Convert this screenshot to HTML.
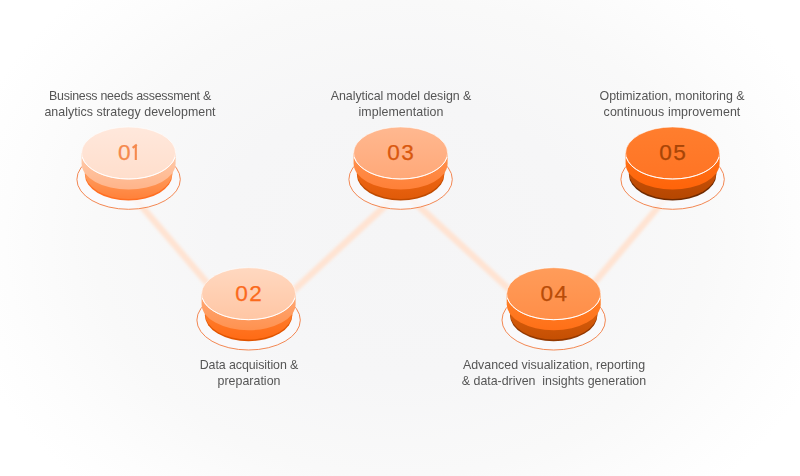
<!DOCTYPE html>
<html><head><meta charset="utf-8"><style>
html,body{margin:0;padding:0;}
body{width:800px;height:476px;overflow:hidden;position:relative;
background:radial-gradient(ellipse 450px 350px at 50% 50%, #f5f5f6 0%, #f6f6f7 40%, #f9f9f9 68%, #fdfdfd 88%, #ffffff 100%);
font-family:"Liberation Sans",sans-serif;}
svg{position:absolute;left:0;top:0;}
.t{position:absolute;width:300px;text-align:center;font-size:12.4px;line-height:16px;height:16px;color:#555;will-change:transform;white-space:pre;}
</style></head><body>
<svg width="800" height="476" viewBox="0 0 800 476">
<defs><filter id="blur" x="-20%" y="-20%" width="140%" height="140%"><feGaussianBlur stdDeviation="1.6"/></filter></defs>
<line x1="128.6" y1="191" x2="248.6" y2="331.7" stroke="#ffe3d2" stroke-width="6.5" filter="url(#blur)"/>
<line x1="248.6" y1="332.2" x2="400.6" y2="191.5" stroke="#ffe3d2" stroke-width="6.5" filter="url(#blur)"/>
<line x1="400.6" y1="189.5" x2="553.7" y2="330.2" stroke="#ffe3d2" stroke-width="6.5" filter="url(#blur)"/>
<line x1="553.7" y1="330.7" x2="672.6" y2="190" stroke="#ffe3d2" stroke-width="6.5" filter="url(#blur)"/>
<defs><linearGradient id="t0" gradientUnits="userSpaceOnUse" x1="0" y1="127" x2="0" y2="179"><stop offset="0" stop-color="#ffe8dc"/><stop offset="1" stop-color="#ffdecc"/></linearGradient><linearGradient id="a0" gradientUnits="userSpaceOnUse" x1="0" y1="161" x2="0" y2="189"><stop offset="0" stop-color="#ffc6a4"/><stop offset="1" stop-color="#ffb48a"/></linearGradient><linearGradient id="b0" gradientUnits="userSpaceOnUse" x1="0" y1="173" x2="0" y2="200"><stop offset="0" stop-color="#ff9d60"/><stop offset="1" stop-color="#ff8038"/></linearGradient></defs>
<ellipse cx="128.6" cy="179.4" rx="51.7" ry="29.9" fill="#f9f9fc" fill-opacity="0.75" stroke="#f27a40" stroke-width="0.9"/>
<path d="M84.89999999999999,153 V174.5 A43.7,26 0 0 0 172.3,174.5 V153 Z" fill="#ff6e22"/>
<path d="M84.89999999999999,153 V172.9 A43.7,26 0 0 0 172.3,172.9 V153 Z" fill="url(#b0)"/>
<path d="M81.6,153 V163.5 A47,26 0 0 0 175.6,163.5 V153 Z" fill="url(#a0)"/>
<ellipse cx="128.6" cy="153" rx="47" ry="26" fill="url(#t0)" stroke="#fff" stroke-opacity="0.55" stroke-width="1"/>
<path d="M82.18,157.07 A47,26 0 0 0 175.02,157.07" fill="none" stroke="#fff" stroke-width="1"/>
<text x="124.39999999999999" y="160.1" text-anchor="middle" font-family="Liberation Sans" font-size="22.6" fill="#f5894d" stroke="#f5894d" stroke-width="0.25">0</text>
<path d="M135.79999999999998,160.0 V144.5 M136.79999999999998,144.7 L132.6,147.9" stroke="#f5894d" stroke-width="2.1" fill="none"/>
<defs><linearGradient id="t1" gradientUnits="userSpaceOnUse" x1="0" y1="267.7" x2="0" y2="319.7"><stop offset="0" stop-color="#ffd8c0"/><stop offset="1" stop-color="#ffc6a4"/></linearGradient><linearGradient id="a1" gradientUnits="userSpaceOnUse" x1="0" y1="301.7" x2="0" y2="329.7"><stop offset="0" stop-color="#ffa46e"/><stop offset="1" stop-color="#ff9250"/></linearGradient><linearGradient id="b1" gradientUnits="userSpaceOnUse" x1="0" y1="313.7" x2="0" y2="340.7"><stop offset="0" stop-color="#ff7c2c"/><stop offset="1" stop-color="#ff6a14"/></linearGradient></defs>
<ellipse cx="248.6" cy="320.09999999999997" rx="51.7" ry="29.9" fill="#f9f9fc" fill-opacity="0.75" stroke="#f27a40" stroke-width="0.9"/>
<path d="M204.89999999999998,293.7 V315.2 A43.7,26 0 0 0 292.3,315.2 V293.7 Z" fill="#e05400"/>
<path d="M204.89999999999998,293.7 V313.59999999999997 A43.7,26 0 0 0 292.3,313.59999999999997 V293.7 Z" fill="url(#b1)"/>
<path d="M201.6,293.7 V304.2 A47,26 0 0 0 295.6,304.2 V293.7 Z" fill="url(#a1)"/>
<ellipse cx="248.6" cy="293.7" rx="47" ry="26" fill="url(#t1)" stroke="#fff" stroke-opacity="0.55" stroke-width="1"/>
<path d="M202.18,297.77 A47,26 0 0 0 295.02,297.77" fill="none" stroke="#fff" stroke-width="1"/>
<text x="249.29999999999998" y="300.8" text-anchor="middle" font-family="Liberation Sans" font-size="22.6" letter-spacing="1.4" fill="#fb6a1c" stroke="#fb6a1c" stroke-width="0.25">02</text>
<defs><linearGradient id="t2" gradientUnits="userSpaceOnUse" x1="0" y1="127" x2="0" y2="179"><stop offset="0" stop-color="#ffb890"/><stop offset="1" stop-color="#ffa878"/></linearGradient><linearGradient id="a2" gradientUnits="userSpaceOnUse" x1="0" y1="161" x2="0" y2="189"><stop offset="0" stop-color="#ff8e4a"/><stop offset="1" stop-color="#ff8038"/></linearGradient><linearGradient id="b2" gradientUnits="userSpaceOnUse" x1="0" y1="173" x2="0" y2="200"><stop offset="0" stop-color="#ee6614"/><stop offset="1" stop-color="#e05a08"/></linearGradient></defs>
<ellipse cx="400.6" cy="179.4" rx="51.7" ry="29.9" fill="#f9f9fc" fill-opacity="0.75" stroke="#f27a40" stroke-width="0.9"/>
<path d="M356.90000000000003,153 V174.5 A43.7,26 0 0 0 444.3,174.5 V153 Z" fill="#bf4a00"/>
<path d="M356.90000000000003,153 V172.9 A43.7,26 0 0 0 444.3,172.9 V153 Z" fill="url(#b2)"/>
<path d="M353.6,153 V163.5 A47,26 0 0 0 447.6,163.5 V153 Z" fill="url(#a2)"/>
<ellipse cx="400.6" cy="153" rx="47" ry="26" fill="url(#t2)" stroke="#fff" stroke-opacity="0.55" stroke-width="1"/>
<path d="M354.18,157.07 A47,26 0 0 0 447.02,157.07" fill="none" stroke="#fff" stroke-width="1"/>
<text x="401.3" y="160.1" text-anchor="middle" font-family="Liberation Sans" font-size="22.6" letter-spacing="1.4" fill="#d9580f" stroke="#d9580f" stroke-width="0.25">03</text>
<defs><linearGradient id="t3" gradientUnits="userSpaceOnUse" x1="0" y1="267.7" x2="0" y2="319.7"><stop offset="0" stop-color="#ff9c5a"/><stop offset="1" stop-color="#ff8e48"/></linearGradient><linearGradient id="a3" gradientUnits="userSpaceOnUse" x1="0" y1="301.7" x2="0" y2="329.7"><stop offset="0" stop-color="#ff7e26"/><stop offset="1" stop-color="#ff7018"/></linearGradient><linearGradient id="b3" gradientUnits="userSpaceOnUse" x1="0" y1="313.7" x2="0" y2="340.7"><stop offset="0" stop-color="#d65c0c"/><stop offset="1" stop-color="#c44e02"/></linearGradient></defs>
<ellipse cx="553.7" cy="320.09999999999997" rx="51.7" ry="29.9" fill="#f9f9fc" fill-opacity="0.75" stroke="#f27a40" stroke-width="0.9"/>
<path d="M510.00000000000006,293.7 V315.2 A43.7,26 0 0 0 597.4000000000001,315.2 V293.7 Z" fill="#933800"/>
<path d="M510.00000000000006,293.7 V313.59999999999997 A43.7,26 0 0 0 597.4000000000001,313.59999999999997 V293.7 Z" fill="url(#b3)"/>
<path d="M506.70000000000005,293.7 V304.2 A47,26 0 0 0 600.7,304.2 V293.7 Z" fill="url(#a3)"/>
<ellipse cx="553.7" cy="293.7" rx="47" ry="26" fill="url(#t3)" stroke="#fff" stroke-opacity="0.55" stroke-width="1"/>
<path d="M507.28,297.77 A47,26 0 0 0 600.12,297.77" fill="none" stroke="#fff" stroke-width="1"/>
<text x="554.4000000000001" y="300.8" text-anchor="middle" font-family="Liberation Sans" font-size="22.6" letter-spacing="1.4" fill="#b84c08" stroke="#b84c08" stroke-width="0.25">04</text>
<defs><linearGradient id="t4" gradientUnits="userSpaceOnUse" x1="0" y1="127" x2="0" y2="179"><stop offset="0" stop-color="#ff7e2e"/><stop offset="1" stop-color="#ff7424"/></linearGradient><linearGradient id="a4" gradientUnits="userSpaceOnUse" x1="0" y1="161" x2="0" y2="189"><stop offset="0" stop-color="#ff6e14"/><stop offset="1" stop-color="#ff640a"/></linearGradient><linearGradient id="b4" gradientUnits="userSpaceOnUse" x1="0" y1="173" x2="0" y2="200"><stop offset="0" stop-color="#c85008"/><stop offset="1" stop-color="#b44600"/></linearGradient></defs>
<ellipse cx="672.6" cy="179.4" rx="51.7" ry="29.9" fill="#f9f9fc" fill-opacity="0.75" stroke="#f27a40" stroke-width="0.9"/>
<path d="M628.9,153 V174.5 A43.7,26 0 0 0 716.3000000000001,174.5 V153 Z" fill="#702a00"/>
<path d="M628.9,153 V172.9 A43.7,26 0 0 0 716.3000000000001,172.9 V153 Z" fill="url(#b4)"/>
<path d="M625.6,153 V163.5 A47,26 0 0 0 719.6,163.5 V153 Z" fill="url(#a4)"/>
<ellipse cx="672.6" cy="153" rx="47" ry="26" fill="url(#t4)" stroke="#fff" stroke-opacity="0.55" stroke-width="1"/>
<path d="M626.18,157.07 A47,26 0 0 0 719.02,157.07" fill="none" stroke="#fff" stroke-width="1"/>
<text x="673.3000000000001" y="160.1" text-anchor="middle" font-family="Liberation Sans" font-size="22.6" letter-spacing="1.4" fill="#a84506" stroke="#a84506" stroke-width="0.25">05</text>
</svg>
<div class="t" style="left:-19.80000000000001px;top:87.8px;letter-spacing:-0.254px">Business needs assessment &</div>
<div class="t" style="left:-19.80000000000001px;top:103.8px;letter-spacing:0.034px">analytics strategy development</div>
<div class="t" style="left:251.2px;top:87.8px;letter-spacing:-0.062px">Analytical model design &</div>
<div class="t" style="left:251.2px;top:103.8px;letter-spacing:0.077px">implementation</div>
<div class="t" style="left:522.0px;top:87.8px;letter-spacing:-0.012px">Optimization, monitoring &</div>
<div class="t" style="left:522.0px;top:103.8px;letter-spacing:0.081px">continuous improvement</div>
<div class="t" style="left:99.0px;top:356.7px;letter-spacing:-0.071px">Data acquisition &</div>
<div class="t" style="left:99.0px;top:372.7px;letter-spacing:0.025px">preparation</div>
<div class="t" style="left:403.75px;top:356.7px;letter-spacing:0.009px">Advanced visualization, reporting</div>
<div class="t" style="left:403.75px;top:372.7px;letter-spacing:-0.009px">&amp; data-driven  insights generation</div>
</body></html>
